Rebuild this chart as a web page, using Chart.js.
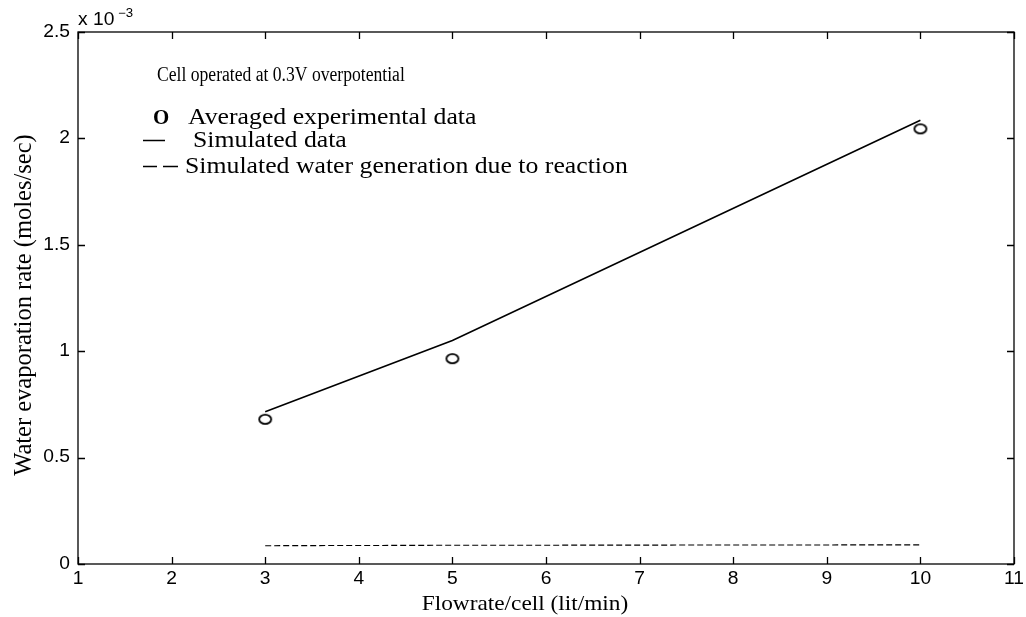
<!DOCTYPE html>
<html>
<head>
<meta charset="utf-8">
<script src="https://cdn.jsdelivr.net/npm/chart.js@4"></script>
<style>
  html, body { margin: 0; padding: 0; background: #fff; }
  #wrap { width: 1026px; height: 617px; }
</style>
</head>
<body>
<div id="wrap"><canvas id="chart" width="1026" height="617"></canvas></div>
<script>
// water evaporation rate vs flowrate, values in units of 1e-3 moles/sec
const flowrates = [3, 5, 10];
const experimental = [0.68, 0.965, 2.045];
const simulated = [0.715, 1.05, 2.085];
const reactionWater = [0.086, 0.088, 0.09];

const xTicks = [1, 2, 3, 4, 5, 6, 7, 8, 9, 10, 11];
const yTicks = [0, 0.5, 1, 1.5, 2, 2.5];
const yTickLabels = ["0", "0.5", "1", "1.5", "2", "2.5"];

const xTitle = "Flowrate/cell (lit/min)";
const yTitle = "Water evaporation rate (moles/sec)";
const noteText = "Cell operated at 0.3V overpotential";
const legendLabels = [
  "Averaged experimental data",
  "Simulated data",
  "Simulated water generation due to reaction"
];

const serif = "'Liberation Serif', 'Times New Roman', serif";
const sans = "'Liberation Sans', Arial, sans-serif";

function toPoints(ys) {
  return flowrates.map((x, i) => ({ x: x, y: ys[i] }));
}

// text with a horizontal stretch factor
function wideText(ctx, text, x, y, font, sx, align, baseline) {
  ctx.save();
  ctx.font = font;
  ctx.textAlign = align || "left";
  ctx.textBaseline = baseline || "alphabetic";
  ctx.translate(x, y);
  ctx.scale(sx, 1);
  ctx.fillText(text, 0, 0);
  ctx.restore();
}

// open "O" marker, a bit wider than tall
function makeMarker() {
  const c = document.createElement("canvas");
  c.width = 16;
  c.height = 13;
  const g = c.getContext("2d");
  g.strokeStyle = "#000";
  g.lineWidth = 1.8;
  g.beginPath();
  g.ellipse(8, 6.5, 6, 4.6, 0, 0, Math.PI * 2);
  g.stroke();
  return c;
}

// box, inward ticks, tick labels, titles and the text legend
const framePlugin = {
  id: "frame",
  afterDraw(chart) {
    const ctx = chart.ctx;
    const a = chart.chartArea;
    const xs = chart.scales.x;
    const ys = chart.scales.y;
    const tick = 7;
    ctx.save();
    ctx.strokeStyle = "#000";
    ctx.fillStyle = "#000";
    ctx.lineWidth = 1.3;
    ctx.strokeRect(a.left, a.top, a.right - a.left, a.bottom - a.top);
    ctx.beginPath();
    xTicks.forEach(v => {
      const px = Math.round(xs.getPixelForValue(v)) + 0.5;
      ctx.moveTo(px, a.bottom); ctx.lineTo(px, a.bottom - tick);
      ctx.moveTo(px, a.top); ctx.lineTo(px, a.top + tick);
    });
    yTicks.forEach(v => {
      const py = Math.round(ys.getPixelForValue(v)) + 0.5;
      ctx.moveTo(a.left, py); ctx.lineTo(a.left + tick, py);
      ctx.moveTo(a.right, py); ctx.lineTo(a.right - tick, py);
    });
    ctx.stroke();

    // tick labels
    const tickFont = "17.5px " + sans;
    xTicks.forEach(v => {
      wideText(ctx, String(v), xs.getPixelForValue(v), a.bottom + 15, tickFont, 1.1, "center", "middle");
    });
    yTicks.forEach((v, i) => {
      wideText(ctx, yTickLabels[i], a.left - 8, ys.getPixelForValue(v), tickFont, 1.1, "right", "middle");
    });

    // x 10^-3
    wideText(ctx, "x 10", a.left, a.top - 7, "17.5px " + sans, 1.1, "left");
    wideText(ctx, "\u22123", a.left + 40, a.top - 15, "12px " + sans, 1.1, "left");

    // axis titles
    wideText(ctx, xTitle, a.left + 447, a.bottom + 46, "21px " + serif, 1.11, "center");
    ctx.save();
    ctx.translate(31, a.top + 273);
    ctx.rotate(-Math.PI / 2);
    ctx.font = "24.5px " + serif;
    ctx.textAlign = "center";
    ctx.textBaseline = "alphabetic";
    ctx.fillText(yTitle, 0, 0);
    ctx.restore();

    // note and legend
    const lx = a.left;
    wideText(ctx, noteText, lx + 79, a.top + 49, "20px " + serif, 0.88, "left");

    const legFont = "23px " + serif;
    wideText(ctx, "O", lx + 75, a.top + 92, "bold 22px " + serif, 0.95, "left");
    wideText(ctx, legendLabels[0], lx + 110, a.top + 92, legFont, 1.12, "left");

    ctx.lineWidth = 1.5;
    ctx.beginPath();
    ctx.moveTo(lx + 65, a.top + 108.5);
    ctx.lineTo(lx + 87, a.top + 108.5);
    ctx.stroke();
    wideText(ctx, legendLabels[1], lx + 115, a.top + 115, legFont, 1.12, "left");

    ctx.beginPath();
    ctx.moveTo(lx + 65, a.top + 134.5);
    ctx.lineTo(lx + 79, a.top + 134.5);
    ctx.moveTo(lx + 85, a.top + 134.5);
    ctx.lineTo(lx + 100, a.top + 134.5);
    ctx.stroke();
    wideText(ctx, legendLabels[2], lx + 107, a.top + 141, legFont, 1.12, "left");
    ctx.restore();
  }
};

const marker = makeMarker();

new Chart(document.getElementById("chart"), {
  type: "line",
  data: {
    datasets: [
      {
        label: legendLabels[1],
        data: toPoints(simulated),
        borderColor: "#000",
        borderWidth: 1.6,
        pointRadius: 0,
        fill: false
      },
      {
        label: legendLabels[2],
        data: toPoints(reactionWater),
        borderColor: "#000",
        borderWidth: 1.1,
        borderDash: [6, 3],
        pointRadius: 0,
        fill: false
      },
      {
        label: legendLabels[0],
        data: toPoints(experimental),
        showLine: false,
        pointStyle: marker,
        pointRadius: 7
      }
    ]
  },
  options: {
    responsive: false,
    animation: false,
    layout: { padding: { top: 32, right: 12, left: 0, bottom: 0 } },
    plugins: {
      legend: { display: false },
      tooltip: { enabled: false }
    },
    scales: {
      x: {
        type: "linear",
        min: 1,
        max: 11,
        grid: { display: false },
        border: { display: false },
        ticks: { display: false },
        afterBuildTicks: s => { s.ticks = xTicks.map(v => ({ value: v })); },
        afterFit: s => { s.height = 53; }
      },
      y: {
        type: "linear",
        min: 0,
        max: 2.5,
        grid: { display: false },
        border: { display: false },
        ticks: { display: false },
        afterBuildTicks: s => { s.ticks = yTicks.map(v => ({ value: v })); },
        afterFit: s => { s.width = 78; }
      }
    }
  },
  plugins: [framePlugin]
});
</script>
</body>
</html>
